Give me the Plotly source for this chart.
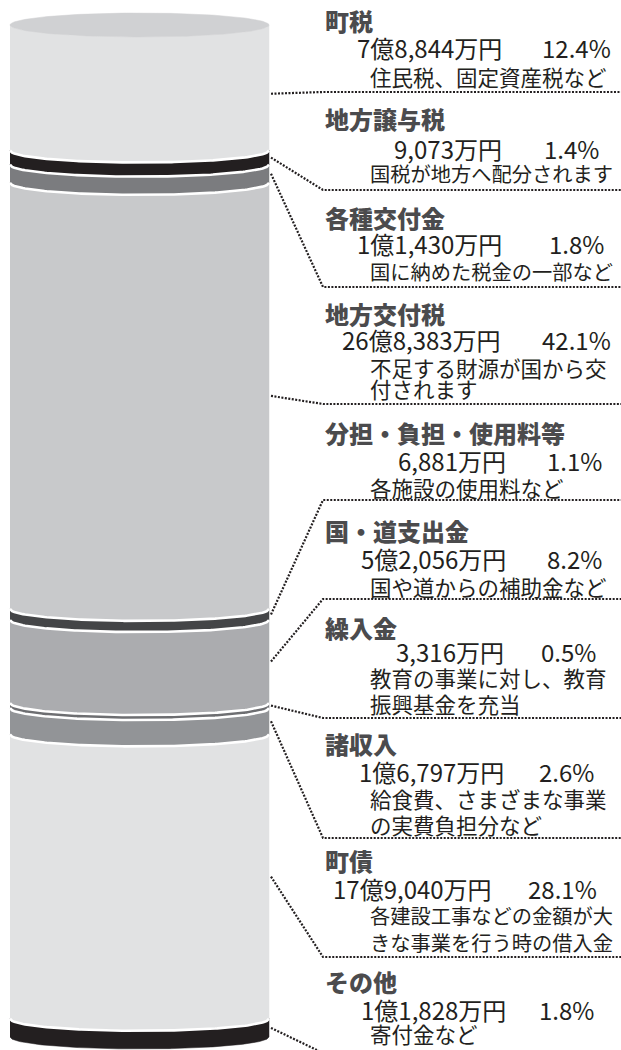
import numpy as np
import plotly.graph_objects as go

# ---- data ----
categories = ["町税", "地方譲与税", "各種交付金", "地方交付税", "分担・負担・使用料等",
              "国・道支出金", "繰入金", "諸収入", "町債", "その他"]
amounts = ["7億8,844万円", "9,073万円", "1億1,430万円", "26億8,383万円", "6,881万円",
           "5億2,056万円", "3,316万円", "1億6,797万円", "17億9,040万円", "1億1,828万円"]
shares = [12.4, 1.4, 1.8, 42.1, 1.1, 8.2, 0.5, 2.6, 28.1, 1.8]
notes = [["住民税、固定資産税など"],
         ["国税が地方へ配分されます"],
         ["国に納めた税金の一部など"],
         ["不足する財源が国から交", "付されます"],
         ["各施設の使用料など"],
         ["国や道からの補助金など"],
         ["教育の事業に対し、教育", "振興基金を充当"],
         ["給食費、さまざまな事業", "の実費負担分など"],
         ["各建設工事などの金額が大", "きな事業を行う時の借入金"],
         ["寄付金など"]]

# ---- styles / layout ----
colors = ["#e1e2e3", "#231f20", "#7b7c7f", "#c8c9cb", "#444547",
          "#abacaf", "#6d6e71", "#929497", "#e1e2e3", "#231f20"]
top_color = "#d0d1d3"
W, H = 621, 1050
TOP_PX, BOT_PX = 25, 1037
CX, RX = 139.5, 129.5
RY_PX = 12

title_y = [20, 119, 217, 314, 432, 530, 627, 743, 860, 981]
amount_y = [48, 148, 243, 340, 460, 558, 651, 771, 888, 1009]
note_y = [[76], [173], [272], [367, 389], [487], [586], [677, 703], [798, 824], [915, 942], [1033]]
sep_y = [92, 190, 287, 404, 500, 599, 718, 838, 957, 1053]
amount_right = [503, 503, 503, 502, 507, 507, 505, 505, 493, 507]
pct_right = [612, 600, 605, 612, 603, 603, 597, 595, 598, 595]
TITLE_X, NOTE_X, JOIN_X = 324, 369, 323
NOTE_W = 243

total = sum(shares)
s = (BOT_PX - TOP_PX) / total
ry = RY_PX / s


def to_val(py):
    return (py - TOP_PX) / s


cum = np.concatenate([[0], np.cumsum(shares)])
u = np.linspace(-1, 1, 121)
xs = CX + RX * u


def arc(c):
    return c + ry * np.sqrt(1 - u ** 2)


fig = go.Figure()

# segments
for i, cat in enumerate(categories):
    y0, y1 = cum[i], cum[i + 1]
    fig.add_trace(go.Scatter(
        x=np.concatenate([xs, xs[::-1]]),
        y=np.concatenate([arc(y0), arc(y1)[::-1]]),
        fill="toself", fillcolor=colors[i], mode="lines",
        line=dict(color=colors[i], width=0.5), hoverinfo="skip", showlegend=False))

# top face
th = np.linspace(0, 2 * np.pi, 200)
fig.add_trace(go.Scatter(x=CX + RX * np.cos(th), y=cum[0] + ry * np.sin(th),
                         fill="toself", fillcolor=top_color, mode="lines",
                         line=dict(color=top_color, width=0.5), hoverinfo="skip", showlegend=False))

# white separators
for c in cum[1:-1]:
    fig.add_trace(go.Scatter(x=xs, y=arc(c), mode="lines",
                             line=dict(color="white", width=2.6),
                             hoverinfo="skip", showlegend=False))

# leader lines
for i in range(len(categories)):
    y0, y1 = cum[i], cum[i + 1]
    if i == 0:
        mid = (y0 + ry + y1) / 2
    else:
        mid = (y0 + y1) / 2
    sv = to_val(sep_y[i])
    fig.add_trace(go.Scatter(x=[CX + RX + 2, JOIN_X, W + 5], y=[mid, sv, sv], mode="lines",
                             line=dict(color="#231f20", width=2.2, dash="2px,1.5px"),
                             hoverinfo="skip", showlegend=False))

ann = []
TFONT = dict(family="Noto Sans CJK JP", size=24, color="#4b4b4d", weight=900)
AFONT = dict(family="Noto Sans CJK JP", size=24, color="#231f20")


def px(x):
    return x / W


def py(y):
    return 1 - y / H


for i, cat in enumerate(categories):
    ann.append(dict(x=px(TITLE_X), y=py(title_y[i]), text=cat, font=TFONT,
                    xanchor="left", yanchor="middle"))
    ann.append(dict(x=px(amount_right[i]), y=py(amount_y[i]), text=amounts[i], font=AFONT,
                    xanchor="right", yanchor="middle"))
    ann.append(dict(x=px(pct_right[i]), y=py(amount_y[i]), text=f"{shares[i]:.1f}%", font=AFONT,
                    xanchor="right", yanchor="middle"))
    for line, ny in zip(notes[i], note_y[i]):
        size = min(21.5, NOTE_W / len(line))
        ann.append(dict(x=px(NOTE_X), y=py(ny), text=line,
                        font=dict(family="Noto Sans CJK JP", size=size, color="#231f20"),
                        xanchor="left", yanchor="middle"))

for a in ann:
    a.update(xref="paper", yref="paper", showarrow=False, borderpad=0)

fig.update_layout(
    width=W, height=H, margin=dict(l=0, r=0, t=0, b=0),
    paper_bgcolor="white", plot_bgcolor="white",
    xaxis=dict(range=[0, W], visible=False, fixedrange=True),
    yaxis=dict(range=[to_val(H), to_val(0)], visible=False, fixedrange=True),
    annotations=ann, showlegend=False,
)

fig.write_html("out.html")
